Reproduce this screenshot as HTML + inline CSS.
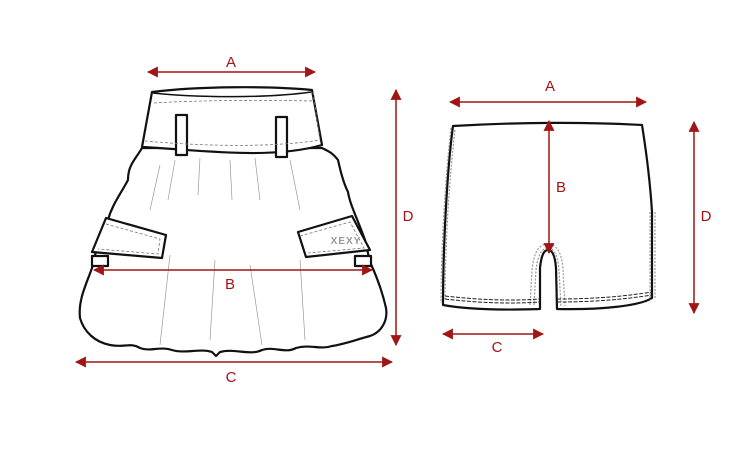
<!DOCTYPE html>
<html><head><meta charset="utf-8"><style>
html,body{margin:0;padding:0;background:#fff;}
svg{display:block}
text{font-family:"Liberation Sans",sans-serif;font-size:15px;fill:#a01515;text-anchor:middle}
</style></head><body>
<svg width="750" height="450" viewBox="0 0 750 450" xmlns="http://www.w3.org/2000/svg">
<defs>
<marker id="ah" viewBox="0 0 10 10" refX="9" refY="5" markerWidth="11" markerHeight="11" markerUnits="userSpaceOnUse" orient="auto-start-reverse">
<path d="M0,0 L10,5 L0,10 z" fill="#a01515"/></marker>
</defs>
<!-- SKIRT -->
<g fill="#fff" stroke="#111" stroke-width="2.2" stroke-linejoin="round">
<path d="M142,148 C135,160 128,165 128,180 C120,195 112,205 108,220 L95,255 L92,268 C86,285 78,300 80,318 C84,332 95,342 110,345 C125,348 130,342 140,348 C150,352 160,346 172,350 C185,354 200,348 212,352 L216,356 L220,352 C235,348 250,356 262,350 C275,346 285,354 296,348 C310,344 320,350 332,346 C345,344 355,340 370,336 C382,332 388,320 386,308 C382,290 376,275 370,262 L365,240 C358,220 350,205 348,192 C342,180 340,168 338,160 C332,152 326,150 322,148 Z"/>
<path d="M152,92 C200,86 270,86 312,90 L322,145 C270,160 200,150 142,147 Z"/>
<path d="M153,93 C200,98 270,98 311,92" fill="none" stroke-width="1.5"/>
<path d="M106,218 L166,235 L162,258 L92,252 Z"/>
<path d="M298,232 L352,216 L370,250 L306,257 Z"/>
<rect x="176" y="115" width="11" height="40"/>
<rect x="276" y="117" width="11" height="40"/>
<rect x="92" y="256" width="16" height="10"/>
<rect x="355" y="256" width="16" height="10"/>
</g>
<g fill="none" stroke="#777" stroke-width="0.8" stroke-dasharray="3,2">
<path d="M154,103 C200,100 270,100 314,101"/>
<path d="M145,141 C200,146 270,148 320,140"/>
<path d="M106,224 L160,239 L158,254 L98,249"/>
<path d="M300,236 L350,222 L364,248 L308,253"/>
<path d="M313,92 L320,140"/>
</g>
<g fill="none" stroke="#999" stroke-width="0.7">
<path d="M175,160 L168,200 M200,158 L198,195 M230,160 L232,200 M255,158 L260,200 M290,160 L300,210 M160,165 L150,210"/>
<path d="M170,255 L160,345 M215,260 L210,340 M250,265 L262,345 M300,260 L305,340"/>
</g>
<text x="346" y="244" style="font-size:10px;font-weight:bold;fill:#999;letter-spacing:1px">XEXY</text>
<!-- SHORTS -->
<g fill="#fff" stroke="#111" stroke-width="2.2" stroke-linejoin="round">
<path d="M453,126 C520,122 590,122 642,125 C646,150 650,180 652,212 L652,298 C640,306 600,310 557,309 L556,268 C555,255 552,250 548,250 C543,250 541,258 540,268 L540,309 C510,310 470,310 443,305 C443,250 447,170 453,126 Z"/>
</g>
<g fill="none" stroke="#999" stroke-width="1.2" stroke-dasharray="2,1.5">
<path d="M451,128 C445,180 441,250 441,303"/><path d="M455,130 C449,180 445,250 445,300"/>
<path d="M650,212 L650,300"/><path d="M655,212 L655,298"/>
<path d="M530,305 L532,270 C534,250 540,244 548,244 C556,244 562,252 563,270 L565,306"/>
<path d="M534,305 L536,270 C538,254 542,248 548,248 C554,248 558,256 559,270 L561,306"/>
</g>
<g fill="none" stroke="#222" stroke-width="1" stroke-dasharray="4,1.5">
<path d="M445,296 C480,300 510,301 540,299"/><path d="M445,299 C480,303 510,304 540,302"/>
<path d="M557,299 C590,299 620,297 652,292"/><path d="M557,302 C590,302 620,300 652,295"/>
</g>
<!-- ARROWS -->
<g stroke="#a01515" stroke-width="1.5" fill="none" marker-start="url(#ah)" marker-end="url(#ah)">
<line x1="148" y1="72" x2="315" y2="72"/>
<line x1="94" y1="270" x2="372" y2="270"/>
<line x1="76" y1="362" x2="392" y2="362"/>
<line x1="396" y1="90" x2="396" y2="345"/>
<line x1="450" y1="102" x2="646" y2="102"/>
<line x1="549" y1="121" x2="549" y2="253"/>
<line x1="443" y1="334" x2="543" y2="334"/>
<line x1="694" y1="122" x2="694" y2="313"/>
</g>
<text x="231" y="67">A</text>
<text x="230" y="289">B</text>
<text x="231" y="382">C</text>
<text x="408" y="221">D</text>
<text x="550" y="91">A</text>
<text x="561" y="192">B</text>
<text x="497" y="352">C</text>
<text x="706" y="221">D</text>
</svg>
</body></html>
